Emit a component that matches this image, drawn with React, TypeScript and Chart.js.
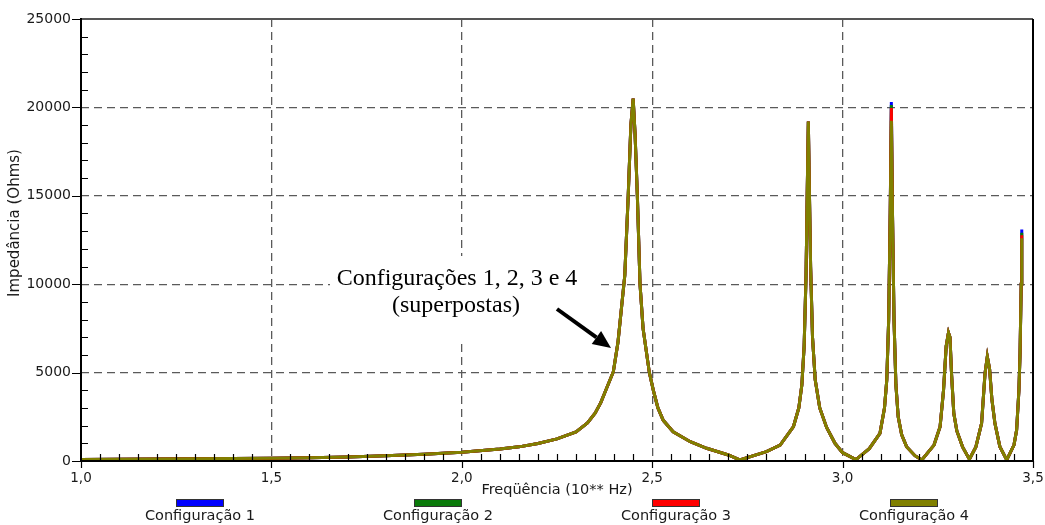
import React, { useEffect, useRef } from 'react';
import { Chart, registerables } from 'chart.js';

Chart.register(...registerables);

// Frequency (10** Hz)
const freq = [
  1.0, 1.1, 1.2, 1.3, 1.4, 1.5, 1.6, 1.7, 1.8, 1.9,
  2.0, 2.1, 2.15, 2.2, 2.25, 2.3, 2.33, 2.35, 2.365, 2.38,
  2.398, 2.41, 2.42, 2.428, 2.437, 2.444, 2.45, 2.455, 2.461, 2.468,
  2.476, 2.4925, 2.503, 2.515, 2.529, 2.555, 2.6, 2.643, 2.7, 2.73,
  2.8, 2.836, 2.871, 2.885, 2.893, 2.899, 2.904, 2.907, 2.91, 2.913,
  2.916, 2.921, 2.928, 2.94, 2.958, 2.98, 3.0, 3.035, 3.07, 3.098,
  3.11, 3.116, 3.121, 3.125, 3.128, 3.131, 3.135, 3.14, 3.146, 3.155,
  3.168, 3.19, 3.208, 3.24, 3.256, 3.265, 3.272, 3.278, 3.282, 3.286,
  3.292, 3.3, 3.315, 3.333, 3.35, 3.365, 3.374, 3.38, 3.386, 3.392,
  3.4, 3.413, 3.431, 3.45, 3.457, 3.463, 3.466, 3.469, 3.4705,
];

// Impedance (Ohms)
const config1 = [
  80, 95, 110, 125, 140, 160, 190, 230, 290, 380,
  500, 680, 800, 990, 1250, 1650, 2150, 2700, 3300, 4100,
  5050, 6700, 8800, 10500, 15000, 19000, 20500, 18500, 15000, 10000,
  7500, 5000, 4000, 3000, 2300, 1650, 1090, 720, 340, 60,
  530, 900, 1950, 3000, 4300, 6500, 10500, 15000, 19200, 15000,
  11000, 7000, 4600, 3000, 1900, 1000, 470, 80, 700, 1560,
  3000, 4580, 8000, 14000, 20300, 14000, 8000, 4300, 2500, 1500,
  810, 300, 60, 900, 1940, 4000, 6500, 7260, 7000, 4960,
  2700, 1700, 800, 100, 800, 2130, 4960, 5900, 5200, 3500,
  2130, 810, 60, 900, 1750, 4000, 6100, 10000, 13100,
];
const config2 = [
  80, 95, 110, 125, 140, 160, 190, 230, 290, 380,
  500, 680, 800, 990, 1250, 1650, 2150, 2700, 3300, 4100,
  5050, 6700, 8800, 10500, 15000, 19000, 20500, 18500, 15000, 10000,
  7500, 5000, 4000, 3000, 2300, 1650, 1090, 720, 340, 60,
  530, 900, 1950, 3000, 4300, 6500, 10500, 15000, 19200, 15000,
  11000, 7000, 4600, 3000, 1900, 1000, 470, 80, 700, 1560,
  3000, 4580, 8000, 14000, 20140, 14000, 8000, 4300, 2500, 1500,
  810, 300, 60, 900, 1940, 4000, 6500, 7260, 7000, 4960,
  2700, 1700, 800, 100, 800, 2130, 4960, 5900, 5200, 3500,
  2130, 810, 60, 900, 1750, 4000, 6100, 10000, 12910,
];
const config3 = [
  80, 95, 110, 125, 140, 160, 190, 230, 290, 380,
  500, 680, 800, 990, 1250, 1650, 2150, 2700, 3300, 4100,
  5050, 6700, 8800, 10500, 15000, 19000, 20500, 18500, 15000, 10000,
  7500, 5000, 4000, 3000, 2300, 1650, 1090, 720, 340, 60,
  530, 900, 1950, 3000, 4300, 6500, 10500, 15000, 19200, 15000,
  11000, 7000, 4600, 3000, 1900, 1000, 470, 80, 700, 1560,
  3000, 4580, 8000, 14000, 19970, 14000, 8000, 4300, 2500, 1500,
  810, 300, 60, 900, 1940, 4000, 6500, 7260, 7000, 4960,
  2700, 1700, 800, 100, 800, 2130, 4960, 5900, 5200, 3500,
  2130, 810, 60, 900, 1750, 4000, 6100, 10000, 12770,
];
const config4 = [
  80, 95, 110, 125, 140, 160, 190, 230, 290, 380,
  500, 680, 800, 990, 1250, 1650, 2150, 2700, 3300, 4100,
  5050, 6700, 8800, 10500, 15000, 19000, 20500, 18500, 15000, 10000,
  7500, 5000, 4000, 3000, 2300, 1650, 1090, 720, 340, 60,
  530, 900, 1950, 3000, 4300, 6500, 10500, 15000, 19200, 15000,
  11000, 7000, 4600, 3000, 1900, 1000, 470, 80, 700, 1560,
  3000, 4580, 8000, 14000, 19250, 14000, 8000, 4300, 2500, 1500,
  810, 300, 60, 900, 1940, 4000, 6500, 7260, 7000, 4960,
  2700, 1700, 800, 100, 800, 2130, 4960, 5900, 5200, 3500,
  2130, 810, 60, 900, 1750, 4000, 6100, 10000, 12600,
];

const seriesLabels = ['Configuração 1', 'Configuração 2', 'Configuração 3', 'Configuração 4'];
const seriesColors = ['#0000ff', '#0a7a0a', '#ff0000', '#808000'];
const seriesValues = [config1, config2, config3, config4];

const xTickValues = [1.0, 1.5, 2.0, 2.5, 3.0, 3.5];
const xTickLabels = ['1,0', '1,5', '2,0', '2,5', '3,0', '3,5'];
const yTickLabels = ['0', '5000', '10000', '15000', '20000', '25000'];

const xTitle = 'Freqüência (10** Hz)';
const yTitle = 'Impedância (Ohms)';
const noteLine1 = 'Configurações 1, 2, 3 e 4';
const noteLine2 = '(superpostas)';

const SANS = '"DejaVu Sans", "Liberation Sans", sans-serif';
const SERIF = '"Liberation Serif", "DejaVu Serif", serif';

const decorPlugin = {
  id: 'decor',
  beforeDatasetsDraw(chart: any) {
    const ctx = chart.ctx;
    ctx.save();
    ctx.fillStyle = '#ffffff';
    ctx.fillRect(330, 256, 270, 84);
    ctx.restore();
  },
  afterDraw(chart: any) {
    const ctx = chart.ctx as CanvasRenderingContext2D;
    const { left, right, top, bottom } = chart.chartArea;
    const xs = chart.scales.x;
    const ys = chart.scales.y;
    ctx.save();

    // frame
    ctx.lineWidth = 2;
    ctx.strokeStyle = '#555555';
    ctx.beginPath();
    ctx.moveTo(left, top);
    ctx.lineTo(right, top);
    ctx.stroke();
    ctx.strokeStyle = '#000000';
    ctx.beginPath();
    ctx.moveTo(right, top);
    ctx.lineTo(right, bottom + 1);
    ctx.moveTo(left, top - 1);
    ctx.lineTo(left, bottom + 1);
    ctx.moveTo(left - 1, bottom);
    ctx.lineTo(right + 1, bottom);
    ctx.stroke();

    // ticks
    ctx.lineWidth = 1.2;
    ctx.strokeStyle = '#000000';
    ctx.beginPath();
    for (let v = 0; v <= 25000; v += 1000) {
      const y = Math.round(ys.getPixelForValue(v)) + 0.5;
      if (v % 5000 === 0) {
        ctx.moveTo(left - 9, y);
        ctx.lineTo(left, y);
      } else {
        ctx.moveTo(left, y);
        ctx.lineTo(left + 7, y);
      }
    }
    for (let k = 0; k <= 50; k++) {
      const v = 1 + k * 0.05;
      const x = Math.round(xs.getPixelForValue(v)) + 0.5;
      if (k % 10 === 0) {
        ctx.moveTo(x, bottom);
        ctx.lineTo(x, bottom + 7);
      } else {
        ctx.moveTo(x, bottom);
        ctx.lineTo(x, bottom - 7);
      }
    }
    ctx.stroke();

    // axis titles
    ctx.fillStyle = '#1a1a1a';
    ctx.font = `14.5px ${SANS}`;
    ctx.textAlign = 'center';
    ctx.textBaseline = 'middle';
    ctx.fillText(xTitle, (left + right) / 2, 490);
    ctx.save();
    ctx.translate(15, 223);
    ctx.rotate(-Math.PI / 2);
    ctx.font = `15px ${SANS}`;
    ctx.fillText(yTitle, 0, 0);
    ctx.restore();

    // legend
    const colW = (right - left) / seriesLabels.length;
    seriesLabels.forEach((lab, i) => {
      const cx = left + colW * (i + 0.5);
      ctx.fillStyle = seriesColors[i];
      ctx.fillRect(cx - 23.5, 500, 47, 7);
      ctx.lineWidth = 1;
      ctx.strokeStyle = '#333333';
      ctx.strokeRect(cx - 23.5, 499.5, 47, 7);
      ctx.fillStyle = '#1a1a1a';
      ctx.font = `14.5px ${SANS}`;
      ctx.textAlign = 'center';
      ctx.textBaseline = 'alphabetic';
      ctx.fillText(lab, cx, 520);
    });

    // annotation
    ctx.fillStyle = '#000000';
    ctx.font = `24px ${SERIF}`;
    ctx.textAlign = 'center';
    ctx.textBaseline = 'alphabetic';
    ctx.fillText(noteLine1, 457, 285);
    ctx.fillText(noteLine2, 456, 312);

    // arrow
    const x0 = 557, y0 = 309, x1 = 611, y1 = 348;
    const ang = Math.atan2(y1 - y0, x1 - x0);
    const headLen = 18, headW = 8;
    const bx = x1 - headLen * Math.cos(ang);
    const by = y1 - headLen * Math.sin(ang);
    ctx.strokeStyle = '#000000';
    ctx.lineWidth = 4;
    ctx.beginPath();
    ctx.moveTo(x0, y0);
    ctx.lineTo(bx, by);
    ctx.stroke();
    ctx.beginPath();
    ctx.moveTo(x1, y1);
    ctx.lineTo(bx + headW * Math.sin(ang), by - headW * Math.cos(ang));
    ctx.lineTo(bx - headW * Math.sin(ang), by + headW * Math.cos(ang));
    ctx.closePath();
    ctx.fill();

    ctx.restore();
  },
};

export default function App() {
  const ref = useRef<HTMLCanvasElement | null>(null);

  useEffect(() => {
    if (!ref.current) return;
    const drawOrder = [3, 2, 1, 0];
    const chart = new Chart(ref.current, {
      type: 'line',
      data: {
        datasets: seriesValues.map((vals, i) => ({
          label: seriesLabels[i],
          data: vals.map((y, j) => ({ x: freq[j], y })),
          borderColor: seriesColors[i],
          backgroundColor: seriesColors[i],
          borderWidth: 3,
          pointRadius: 0,
          tension: 0,
          fill: false,
          order: drawOrder[i],
        })),
      },
      options: {
        responsive: false,
        animation: false,
        events: [],
        layout: { padding: { top: 19, right: 12, left: 0, bottom: 0 } },
        plugins: {
          legend: { display: false },
          tooltip: { enabled: false },
          title: { display: false },
        },
        scales: {
          x: {
            type: 'linear',
            min: 1,
            max: 3.5,
            afterBuildTicks: (s: any) => {
              s.ticks = xTickValues.map((v) => ({ value: v }));
            },
            afterFit: (s: any) => {
              s.height = 64;
              s.paddingLeft = 0;
              s.paddingRight = 0;
            },
            ticks: {
              autoSkip: false,
              maxRotation: 0,
              padding: 9,
              color: '#1a1a1a',
              font: { family: SANS, size: 13.5 },
              callback: (v: any) => {
                const idx = xTickValues.indexOf(Number(v));
                return idx >= 0 ? xTickLabels[idx] : '';
              },
            },
            grid: {
              drawTicks: false,
              lineWidth: 1.3,
              color: (c: any) =>
                c.tick && (c.tick.value === 1 || c.tick.value === 3.5) ? 'rgba(0,0,0,0)' : '#5a5a5a',
            },
            border: { display: false, dash: [8, 5] },
          },
          y: {
            min: 0,
            max: 25000,
            afterBuildTicks: (s: any) => {
              s.ticks = yTickLabels.map((t) => ({ value: Number(t) }));
            },
            afterFit: (s: any) => {
              s.width = 81;
              s.paddingTop = 0;
              s.paddingBottom = 0;
            },
            ticks: {
              autoSkip: false,
              padding: 10,
              color: '#1a1a1a',
              font: { family: SANS, size: 14 },
              callback: (v: any) => {
                const idx = yTickLabels.indexOf(String(v));
                return idx >= 0 ? yTickLabels[idx] : '';
              },
            },
            grid: {
              drawTicks: false,
              lineWidth: 1.3,
              color: (c: any) =>
                c.tick && (c.tick.value === 0 || c.tick.value === 25000) ? 'rgba(0,0,0,0)' : '#5a5a5a',
            },
            border: { display: false, dash: [8, 5] },
          },
        },
      },
      plugins: [decorPlugin],
    });
    return () => chart.destroy();
  }, []);

  return (
    <div style={{ position: 'absolute', left: 0, top: 0, width: 1045, height: 525, background: '#fff' }}>
      <canvas ref={ref} width={1045} height={525} style={{ display: 'block' }} />
    </div>
  );
}
